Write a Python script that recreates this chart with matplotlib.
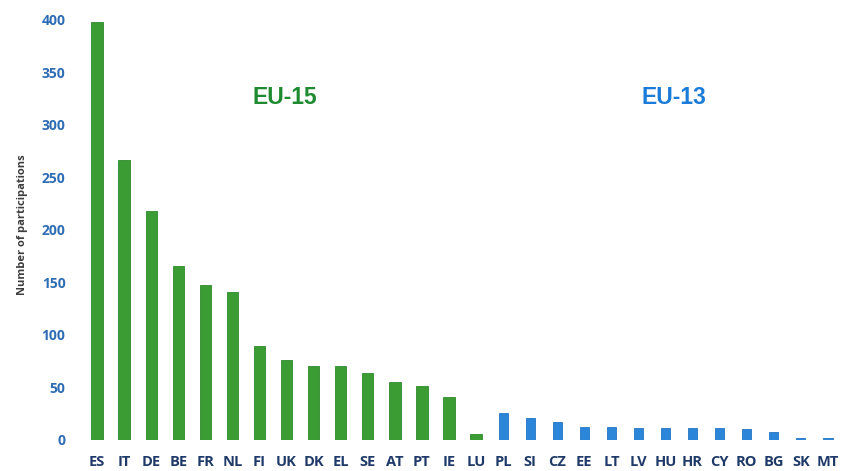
import matplotlib
matplotlib.use("Agg")
from matplotlib import pyplot as plt

countries_eu15 = ["ES", "IT", "DE", "BE", "FR", "NL", "FI", "UK", "DK", "EL", "SE", "AT", "PT", "IE", "LU"]
values_eu15 = [398, 266, 218, 165, 147, 141, 89, 76, 70, 70, 64, 55, 51, 41, 6]

countries_eu13 = ["PL", "SI", "CZ", "EE", "LT", "LV", "HU", "HR", "CY", "RO", "BG", "SK", "MT"]
values_eu13 = [26, 21, 17, 12, 12, 11, 11, 11, 11, 10, 8, 2, 2]

yticks = [0, 50, 100, 150, 200, 250, 300, 350, 400]

green = "#3b9c34"
blue = "#2b86d9"

fig = plt.figure(figsize=(8.44, 4.71), dpi=100)
ax = fig.add_axes([0.099, 0.066, 0.898, 0.915])

labels = countries_eu15 + countries_eu13
x15 = list(range(len(countries_eu15)))
x13 = list(range(len(countries_eu15), len(labels)))

ax.bar(x15, values_eu15, width=0.42, color=green, edgecolor="#2f8a2a", linewidth=0.6)
ax.bar(x13, values_eu13, width=0.34, color=blue, edgecolor="#2476c4", linewidth=0.6)

ax.set_xlim(-0.5, len(labels) - 0.5)
ax.set_ylim(0, 410)
ax.set_xticks(range(len(labels)))
ax.set_xticklabels(labels, fontfamily="Open Sans", fontweight="bold", fontsize=10.5, color="#1f3a68")
ax.set_yticks(yticks)
ax.set_yticklabels([str(v) for v in yticks], fontfamily="Open Sans", fontweight="bold", fontsize=10, color="#2e6db4")
ax.tick_params(axis="both", length=0)
ax.tick_params(axis="x", pad=11)
ax.tick_params(axis="y", pad=13)
for s in ax.spines.values():
    s.set_visible(False)

ax.set_ylabel("Number of participations", fontfamily="Open Sans", fontweight="bold", fontsize=8, color="#3d3d3d", labelpad=10)

# group labels placed in figure pixels (measured from top-left of the picture)
fig.text(285 / 844, 1 - 98 / 471, "EU-15", color="#1e8b30", fontsize=16.5, fontweight="bold",
         fontfamily="Liberation Sans", ha="center", va="center")
fig.text(674 / 844, 1 - 98 / 471, "EU-13", color="#1a7bd8", fontsize=16.5, fontweight="bold",
         fontfamily="Liberation Sans", ha="center", va="center")

fig.savefig("out.png", dpi=100)
